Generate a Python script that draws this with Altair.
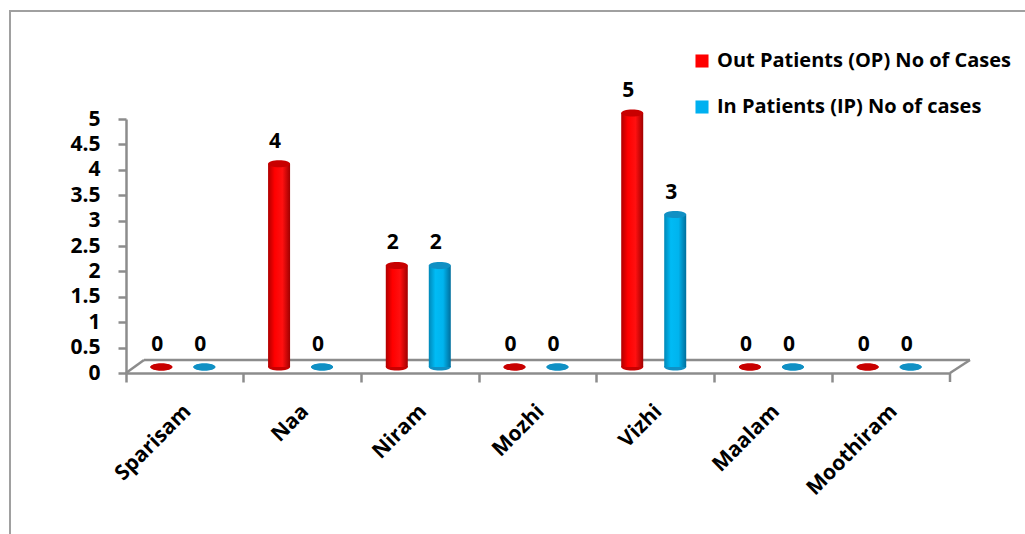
import altair as alt
import pandas as pd

categories = ["Sparisam", "Naa", "Niram", "Mozhi", "Vizhi", "Maalam", "Moothiram"]
op_cases = [0, 4, 2, 0, 5, 0, 0]
ip_cases = [0, 0, 2, 0, 3, 0, 0]
series_names = ["Out Patients (OP) No of Cases", "In Patients (IP) No of cases"]
y_ticks = [0, 0.5, 1, 1.5, 2, 2.5, 3, 3.5, 4, 4.5, 5]

rows = []
for c, o, i in zip(categories, op_cases, ip_cases):
    rows.append({"cat": c, "series": series_names[0], "value": o})
    rows.append({"cat": c, "series": series_names[1], "value": i})
df = pd.DataFrame(rows)

W, H = 824, 254
FONT = "Open Sans"
FS = 21
GRAY = "#8c8c8c"
ELLIPSE = "M-1,0 A1,0.32 0 1,0 1,0 A1,0.32 0 1,0 -1,0 Z"

x_enc = alt.X(
    "cat:N", sort=categories, title=None,
    scale=alt.Scale(paddingInner=0, paddingOuter=0),
    axis=alt.Axis(labelAngle=-45, labelAlign="right", labelBaseline="middle",
                  labelFont=FONT, labelFontSize=FS, labelFontWeight="bold",
                  labelColor="black", labelPadding=26, labelOffset=3, bandPosition=0,
                  tickColor=GRAY, tickWidth=2.5, tickSize=9,
                  domainColor=GRAY, domainWidth=2.5, labelLimit=0),
)
y_scale = alt.Scale(domain=[0, 5], nice=False)
y_axis = alt.Axis(values=y_ticks, format=".1~f", grid=False, title=None,
                  labelOverlap=False,
                  labelFont=FONT, labelFontSize=FS, labelFontWeight="bold",
                  labelColor="black", labelPadding=18, tickColor=GRAY,
                  tickWidth=2.5, tickSize=8, domainColor=GRAY, domainWidth=2.5)

styles = [
    (series_names[0],
     [alt.GradientStop(color="#B00000", offset=0), alt.GradientStop(color="#FF0000", offset=0.3),
      alt.GradientStop(color="#FF1010", offset=0.65), alt.GradientStop(color="#A00000", offset=1)],
     "#C80000", -23.5),
    (series_names[1],
     [alt.GradientStop(color="#0088B8", offset=0), alt.GradientStop(color="#00BBF5", offset=0.3),
      alt.GradientStop(color="#00B4EE", offset=0.65), alt.GradientStop(color="#006E9C", offset=1)],
     "#1090C4", 19.5),
]

base = alt.Chart(df)
one = pd.DataFrame({"k": [0]})

frame = alt.Chart(one).mark_rect(
    fill=None, stroke="#a0a0a0", strokeWidth=2
).encode(x=alt.value(-116), x2=alt.value(950), y=alt.value(-108), y2=alt.value(430))

floor_back = alt.Chart(one).mark_rule(color=GRAY, strokeWidth=2.5).encode(
    x=alt.value(18), x2=alt.value(844), y=alt.value(241), y2=alt.value(241))
floor_left = alt.Chart(one).mark_rule(color=GRAY, strokeWidth=2.5).encode(
    x=alt.value(0), x2=alt.value(18), y=alt.value(254), y2=alt.value(241))
floor_right = alt.Chart(one).mark_rule(color=GRAY, strokeWidth=2.5).encode(
    x=alt.value(824), x2=alt.value(844), y=alt.value(254), y2=alt.value(241))
end_tick = alt.Chart(one).mark_rule(color=GRAY, strokeWidth=2.5).encode(
    x=alt.value(824), y=alt.value(254), y2=alt.value(263))

layers = [frame, floor_back, floor_left, floor_right, end_tick]

legend_layer = base.mark_square(opacity=0).encode(
    x=x_enc, y=alt.Y("value:Q", scale=y_scale, axis=y_axis),
    color=alt.Color("series:N", sort=series_names,
                    scale=alt.Scale(domain=series_names, range=["#FF0000", "#00B0F0"]),
                    legend=alt.Legend(orient="none", legendX=566, legendY=-68, title=None,
                                      symbolType="square", symbolSize=170, symbolOpacity=1,
                                      symbolStrokeWidth=0, labelFont=FONT, labelFontSize=20,
                                      labelFontWeight="bold", labelColor="black",
                                      rowPadding=26, labelOffset=5, labelLimit=0)),
)
layers.append(legend_layer)

for name, stops, cap, xoff in styles:
    b = base.transform_filter(alt.datum.series == name)
    bottom = b.mark_point(shape=ELLIPSE, size=484, filled=True, fill=cap, opacity=1,
                          strokeWidth=0, xOffset=xoff, yOffset=-6).encode(
        x=x_enc, y=alt.YDatum(0, scale=y_scale, axis=y_axis))
    bar = b.mark_bar(width=22, xOffset=xoff, yOffset=-6, y2Offset=-6,
                     fill=alt.Gradient(gradient="linear", stops=stops, x1=0, x2=1, y1=0, y2=0)).encode(
        x=x_enc, y=alt.Y("value:Q", scale=y_scale, axis=y_axis))
    top = b.mark_point(shape=ELLIPSE, size=484, filled=True, fill=cap, opacity=1,
                       strokeWidth=0, xOffset=xoff, yOffset=-6).encode(
        x=x_enc, y=alt.Y("value:Q", scale=y_scale, axis=y_axis))
    label = b.mark_text(font=FONT, fontSize=FS, fontWeight="bold", color="black",
                        dy=-28, xOffset=xoff - 4).encode(
        x=x_enc, y=alt.Y("value:Q", scale=y_scale, axis=y_axis), text="value:Q")
    layers += [bottom, bar, top, label]

chart = alt.layer(*layers).properties(
    width=W, height=H,
    autosize=alt.AutoSizeParams(type="none"),
    padding={"left": 126, "top": 119, "right": 75, "bottom": 161},
    background="white",
).configure_view(stroke=None)

chart.save("out.html", embed_options={"renderer": "svg", "actions": False})
